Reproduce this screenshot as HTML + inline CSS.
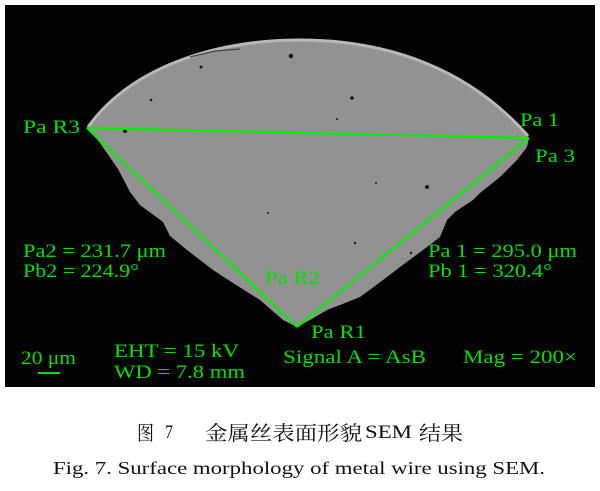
<!DOCTYPE html>
<html><head><meta charset="utf-8"><style>
html,body{margin:0;padding:0;background:#fff;}
svg{display:block;}
</style></head><body>
<svg width="600" height="491" viewBox="0 0 600 491" xmlns="http://www.w3.org/2000/svg">
<rect x="0" y="0" width="600" height="491" fill="#fff"/>
<rect x="5" y="5" width="590" height="382" fill="#020202"/>
<path d="M87,128 C135,62 225,40 300,40 C390,40 470,70 529,138 L527,147 L517,160 L500,177 L480,193 L473,200 L455,212 L447,220 L440,237 L423,250 L400,267 L387,277 L360,297 L340,305 L327,310 L310,320 L297,327 L283,320 L260,300 L233,283 L213,270 L187,250 L170,236 L163,222 L140,205 L130,192 L118,169 L100,143 Z" fill="#929292"/>
<path d="M88,127 C135,62 225,40 300,40 C390,40 470,70 528,136" fill="none" stroke="#b8b8b8" stroke-width="3"/>
<path d="M190,57 L215,51 L240,49" fill="none" stroke="#444" stroke-width="1.2"/>
<g fill="#1a1a1a">
<circle cx="291" cy="56" r="2.3"/>
<circle cx="352" cy="98" r="1.8"/>
<circle cx="427" cy="187" r="2"/>
<circle cx="125" cy="131" r="2"/>
<circle cx="151" cy="100" r="1.3"/>
<circle cx="201" cy="67" r="1.5"/>
<circle cx="337" cy="119" r="1"/>
<circle cx="355" cy="243" r="1.2"/>
<circle cx="411" cy="253" r="1.2"/>
<circle cx="268" cy="213" r="1"/>
<circle cx="376" cy="183" r="1"/>
</g>
<g stroke="#00f000" stroke-width="2.2" fill="none" stroke-linejoin="round">
<line x1="87" y1="128" x2="529" y2="138"/>
<line x1="87" y1="128" x2="297" y2="327"/>
<line x1="297" y1="327" x2="529" y2="138"/>
</g>
<g fill="#00e000" font-family="'Liberation Serif', serif" font-size="19">
<text x="23" y="133" textLength="57" lengthAdjust="spacingAndGlyphs">Pa R3</text>
<text x="520" y="126" textLength="39" lengthAdjust="spacingAndGlyphs">Pa 1</text>
<text x="535" y="162" textLength="40" lengthAdjust="spacingAndGlyphs">Pa 3</text>
<text x="23" y="257" textLength="143" lengthAdjust="spacingAndGlyphs">Pa2 = 231.7 μm</text>
<text x="23" y="277" textLength="116" lengthAdjust="spacingAndGlyphs">Pb2 = 224.9°</text>
<text x="265" y="284" textLength="55" lengthAdjust="spacingAndGlyphs">Pa R2</text>
<text x="311" y="338" textLength="55" lengthAdjust="spacingAndGlyphs">Pa R1</text>
<text x="428" y="257" textLength="149" lengthAdjust="spacingAndGlyphs">Pa 1 = 295.0 μm</text>
<text x="428" y="277" textLength="124" lengthAdjust="spacingAndGlyphs">Pb 1 = 320.4°</text>
<text x="21" y="364" textLength="55" lengthAdjust="spacingAndGlyphs">20 μm</text>
<text x="114" y="357" textLength="125" lengthAdjust="spacingAndGlyphs">EHT = 15 kV</text>
<text x="114" y="378" textLength="131" lengthAdjust="spacingAndGlyphs">WD = 7.8 mm</text>
<text x="283" y="363" textLength="143" lengthAdjust="spacingAndGlyphs">Signal A = AsB</text>
<text x="463" y="363" textLength="114" lengthAdjust="spacingAndGlyphs">Mag = 200×</text>
</g>
<rect x="38" y="372" width="22" height="2" fill="#00e000"/>
<g fill="#111" font-family="'Liberation Serif', 'Noto Serif CJK SC', serif">
<text x="137" y="440" font-size="20" textLength="17" lengthAdjust="spacingAndGlyphs">图</text>
<text x="165" y="438" font-size="19" textLength="8" lengthAdjust="spacingAndGlyphs">7</text>
<text x="205" y="440" font-size="20" textLength="157" lengthAdjust="spacingAndGlyphs">金属丝表面形貌</text>
<text x="365" y="438" font-size="19" textLength="47" lengthAdjust="spacingAndGlyphs">SEM</text>
<text x="419" y="440" font-size="20" textLength="44" lengthAdjust="spacingAndGlyphs">结果</text>
<text x="53" y="474" font-size="17.5" textLength="492" lengthAdjust="spacingAndGlyphs">Fig. 7. Surface morphology of metal wire using SEM.</text>
</g>
</svg>
</body></html>
